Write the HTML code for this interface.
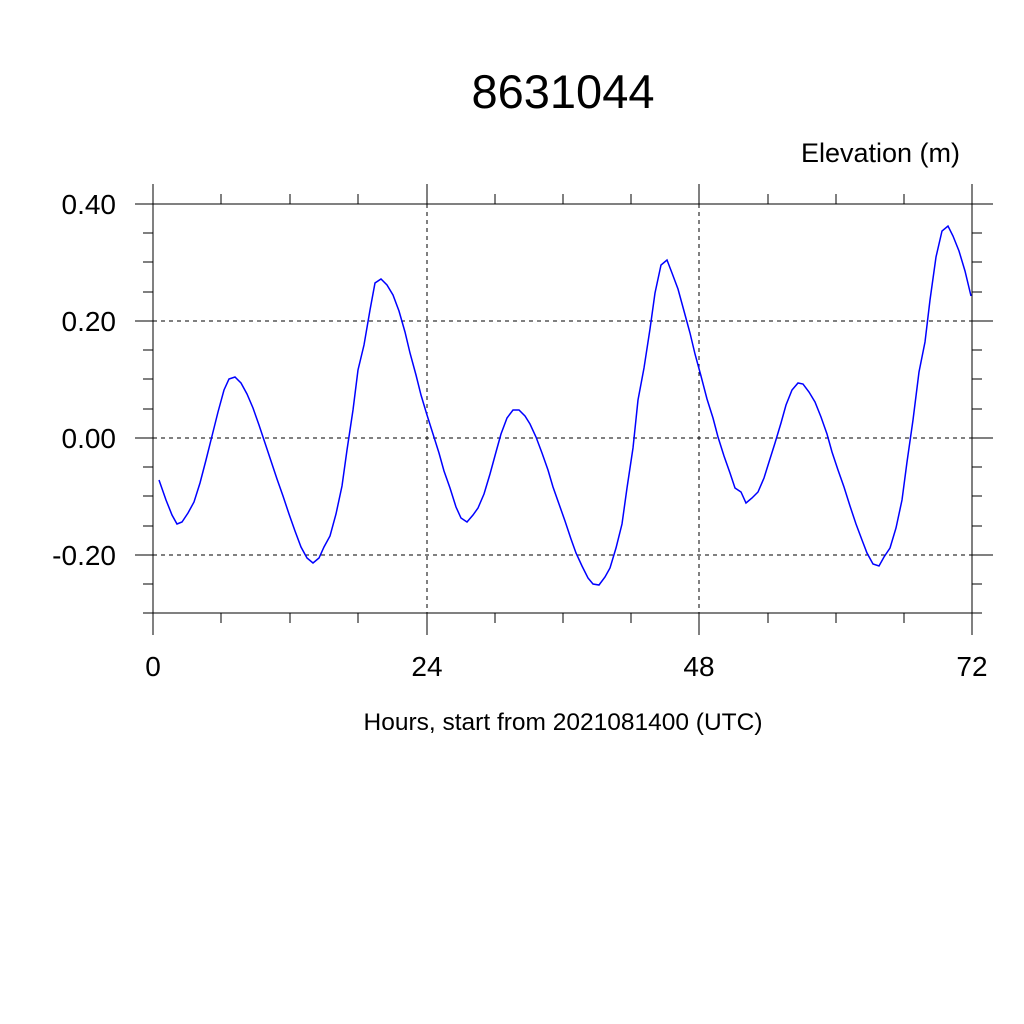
<!DOCTYPE html>
<html><head><meta charset="utf-8"><style>
html,body{margin:0;padding:0;background:#fff;}
svg{display:block;}
text{font-family:"Liberation Sans",sans-serif;fill:#000;}
</style></head><body>
<svg width="1024" height="1024" viewBox="0 0 1024 1024" xmlns="http://www.w3.org/2000/svg">
<text x="563" y="108" font-size="47" text-anchor="middle">8631044</text>
<text x="960" y="162" font-size="27" text-anchor="end">Elevation (m)</text>
<g stroke="#000" stroke-width="1" stroke-dasharray="4,4" fill="none">
<line x1="153" y1="321" x2="972" y2="321"/>
<line x1="153" y1="438" x2="972" y2="438"/>
<line x1="153" y1="555" x2="972" y2="555"/>
<line x1="427" y1="204" x2="427" y2="613"/>
<line x1="699" y1="204" x2="699" y2="613"/>
</g>
<g stroke="#000" stroke-width="1" fill="none">
<rect x="153" y="204" width="819" height="409"/>
<line x1="153" y1="184" x2="153" y2="204"/><line x1="427" y1="184" x2="427" y2="204"/><line x1="699" y1="184" x2="699" y2="204"/><line x1="972" y1="184" x2="972" y2="204"/>
<line x1="153" y1="613" x2="153" y2="635"/><line x1="427" y1="613" x2="427" y2="635"/><line x1="699" y1="613" x2="699" y2="635"/><line x1="972" y1="613" x2="972" y2="635"/>
<path d="M221 194V204M290 194V204M358 194V204M495 194V204M563 194V204M631 194V204M768 194V204M836 194V204M904 194V204
M221 613V623M290 613V623M358 613V623M495 613V623M563 613V623M631 613V623M768 613V623M836 613V623M904 613V623"/>
<path d="M135 204H153M135 321H153M135 438H153M135 555H153M972 204H993M972 321H993M972 438H993M972 555H993"/>
<path d="M143 233H153M143 262H153M143 292H153M143 350H153M143 379H153M143 409H153M143 467H153M143 496H153M143 526H153M143 584H153M143 613H153
M972 233H982M972 262H982M972 292H982M972 350H982M972 379H982M972 409H982M972 467H982M972 496H982M972 526H982M972 584H982M972 613H982"/>
</g>
<g font-size="28" text-anchor="end">
<text x="116" y="214">0.40</text><text x="116" y="331">0.20</text><text x="116" y="448">0.00</text><text x="116" y="565">-0.20</text>
</g>
<g font-size="28" text-anchor="middle">
<text x="153" y="676">0</text><text x="427" y="676">24</text><text x="699" y="676">48</text><text x="972" y="676">72</text>
</g>
<text x="563" y="730" font-size="24.5" text-anchor="middle">Hours, start from 2021081400 (UTC)</text>
<polyline fill="none" stroke="#0000ff" stroke-width="1.5" points="159,480 166,500 172,515 177,524 182,522 188,513 194,502 200,483 206,460 212,436 218,412 224,390 229,379 235,377 241,383 247,394 253,408 259,425 265,443 271,461 277,479 283,496 289,514 295,531 301,547 307,558 313,563 319,558 324,547 330,536 336,514 342,486 347,450 353,410 358,370 364,345 370,310 375,283 381,279 387,285 393,295 399,311 405,332 410,353 416,375 421,395 427,415 433,434 439,453 444,471 450,488 456,507 461,518 467,522 473,515 478,508 484,494 490,474 496,452 501,434 507,418 513,410 519,410 525,416 530,424 536,437 542,453 548,470 553,487 559,504 565,521 571,539 576,553 582,566 588,578 593,584 599,585 605,577 610,568 616,548 622,524 627,488 633,448 638,400 644,368 650,329 655,293 661,265 667,260 672,273 678,289 684,311 690,333 695,354 701,376 707,399 713,418 718,437 724,456 730,473 735,488 741,492 746,503 752,498 758,492 764,478 769,462 775,443 781,423 786,405 792,390 798,383 803,384 809,392 815,402 821,417 827,434 832,452 838,470 844,487 850,506 856,524 862,540 867,553 873,564 879,566 884,557 890,548 896,528 902,500 907,462 913,420 919,372 925,342 930,300 936,257 942,231 948,226 953,236 959,251 965,271 971,296"/>
</svg>
</body></html>
